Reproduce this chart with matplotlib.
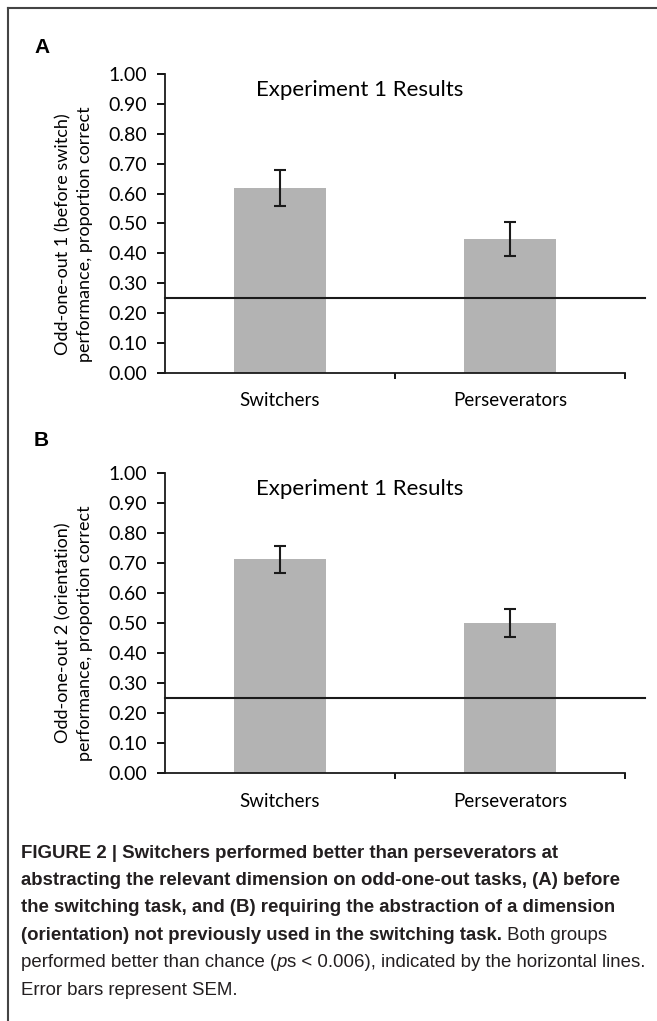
import numpy as np
import matplotlib.pyplot as plt
from matplotlib.lines import Line2D

# data
categories = ['Switchers', 'Perseverators']
meansA = [0.62, 0.448]
semA = [0.06, 0.058]
meansB = [0.712, 0.50]
semB = [0.045, 0.046]
chance = 0.25
yticks = np.arange(0, 1.01, 0.1)
ylabA = 'Odd-one-out 1 (before switch)\nperformance, proportion correct'
ylabB = 'Odd-one-out 2 (orientation)\nperformance, proportion correct'
title = 'Experiment 1 Results'

W, H = 657, 1021
FONT = ['Lato', 'DejaVu Sans']
CAP = ['Liberation Sans Narrow', 'Liberation Sans', 'DejaVu Sans']

fig = plt.figure(figsize=(W / 100, H / 100), dpi=100)


def panel(rect, means, sem, ylab, label_y):
    ax = fig.add_axes(rect)
    x = np.arange(len(categories))
    ax.bar(x, means, width=0.404, color='#b3b3b3', zorder=1)
    ax.errorbar(x, means, yerr=sem, fmt='none', ecolor='#1a1a1a',
                elinewidth=1.5, capsize=4, capthick=1.5, zorder=3)
    # chance line, runs a bit past the axis end
    ax.axhline(chance, xmin=0, xmax=(645 - 165) / 460, color='#1a1a1a',
               lw=1.5, clip_on=False, zorder=2)
    ax.set_xlim(-0.5, 1.5)
    ax.set_ylim(0, 1.0)
    ax.set_yticks(yticks)
    ax.set_yticklabels(['%.2f' % v for v in yticks], family=FONT, fontsize=14)
    ax.set_xticks([0.5, 1.5])
    ax.set_xticklabels([])
    ax.set_xticks(x, minor=True)
    ax.set_xticklabels(categories, minor=True, family=FONT, fontsize=13.5)
    ax.tick_params(axis='x', which='minor', length=0, pad=14)
    ax.tick_params(axis='x', which='major', length=4.5, width=1.3, direction='out')
    ax.tick_params(axis='y', length=6, width=1.3, pad=7)
    for s in ['top', 'right']:
        ax.spines[s].set_visible(False)
    for s in ['left', 'bottom']:
        ax.spines[s].set_linewidth(1.3)
        ax.spines[s].set_color('#1a1a1a')
    ax.text(0.424, 0.945, title, transform=ax.transAxes, ha='center', va='center',
            family=FONT, fontsize=16)
    fig.text(74 / W, 1 - label_y / H, ylab, rotation=90, ha='center', va='center',
             multialignment='center', family=FONT, fontsize=13, linespacing=1.4)
    return ax


panel([165 / W, 1 - 373 / H, 460 / W, 299 / H], meansA, semA, ylabA, 234)
panel([165 / W, 1 - 773.3 / H, 460 / W, 300.7 / H], meansB, semB, ylabB, 633)

fig.text(34 / W, 1 - 47 / H, 'A', fontsize=15, fontweight='bold', family=CAP, va='center')
fig.text(34 / W, 1 - 440 / H, 'B', fontsize=15, fontweight='bold', family=CAP, va='center')

# frame around the figure (only top and left visible)
fig.add_artist(Line2D([8 / W, 1], [1 - 8 / H, 1 - 8 / H], color='#444444', lw=1.5,
                      transform=fig.transFigure))
fig.add_artist(Line2D([8 / W, 8 / W], [0, 1 - 8 / H], color='#444444', lw=1.5,
                      transform=fig.transFigure))

# caption, with mixed bold / italic runs
caption = [
    [('FIGURE 2 | Switchers performed better than perseverators at', 'bold', 'normal')],
    [('abstracting the relevant dimension on odd-one-out tasks, (A) before', 'bold', 'normal')],
    [('the switching task, and (B) requiring the abstraction of a dimension', 'bold', 'normal')],
    [('(orientation) not previously used in the switching task.', 'bold', 'normal'),
     (' Both groups', 'normal', 'normal')],
    [('performed better than chance (', 'normal', 'normal'), ('p', 'normal', 'italic'),
     ('s < 0.006), indicated by the horizontal lines.', 'normal', 'normal')],
    [('Error bars represent SEM.', 'normal', 'normal')],
]
renderer = fig.canvas.get_renderer()
y0 = 853
for i, line in enumerate(caption):
    xpos = 21 / W
    ypos = 1 - (y0 + i * 27.4) / H
    for txt, wt, st in line:
        t = fig.text(xpos, ypos, txt, fontsize=13.4, fontweight=wt, fontstyle=st,
                     family=CAP, color='#231f20', va='center')
        bb = t.get_window_extent(renderer)
        xpos += bb.width / fig.bbox.width

fig.savefig('out.png', dpi=100)
